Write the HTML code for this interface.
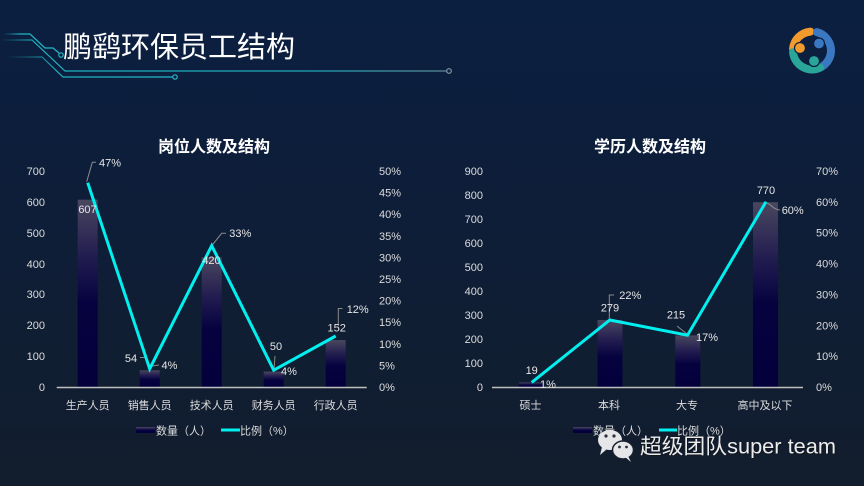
<!DOCTYPE html>
<html><head><meta charset="utf-8">
<style>
html,body{margin:0;padding:0;width:864px;height:486px;overflow:hidden;background:#0e1e38;}
svg{display:block;}
text{font-family:"Liberation Sans","Noto Sans CJK SC",sans-serif;}
</style></head>
<body>
<svg width="864" height="486" viewBox="0 0 864 486" xmlns="http://www.w3.org/2000/svg">
<defs>
<linearGradient id="bg" x1="0" y1="0" x2="0" y2="1">
<stop offset="0" stop-color="#0b1f41"/>
<stop offset="0.45" stop-color="#0e1e38"/>
<stop offset="1" stop-color="#121d2d"/>
</linearGradient>
<linearGradient id="bar" x1="0" y1="0" x2="0" y2="1">
<stop offset="0" stop-color="#4a475f"/>
<stop offset="0.3" stop-color="#221d50"/>
<stop offset="0.55" stop-color="#06023f"/>
<stop offset="1" stop-color="#03003c"/>
</linearGradient>
<linearGradient id="cl" x1="0" y1="0" x2="1" y2="0">
<stop offset="0" stop-color="#1a9aa8" stop-opacity="0"/>
<stop offset="0.08" stop-color="#1fb3c2"/>
<stop offset="0.7" stop-color="#1fa8b8"/>
<stop offset="1" stop-color="#5c8a98"/>
</linearGradient>
<linearGradient id="cl2" x1="0" y1="0" x2="1" y2="0">
<stop offset="0" stop-color="#1a9aa8" stop-opacity="0"/>
<stop offset="0.3" stop-color="#1fb3c2"/>
<stop offset="1" stop-color="#22b8c8"/>
</linearGradient>
</defs>
<rect width="864" height="486" fill="url(#bg)"/>

<!-- circuit lines -->
<polyline points="3,34 30,34 45,48 53,48 59,53" fill="none" stroke="url(#cl2)" stroke-width="1.2"/>
<circle cx="61" cy="55" r="2.2" fill="none" stroke="#2ab6c6" stroke-width="1.2"/>
<polyline points="0,40 32,40 65,71 446,71" fill="none" stroke="url(#cl)" stroke-width="1.2"/>
<circle cx="449" cy="71" r="2.3" fill="none" stroke="#8a9aa6" stroke-width="1.2"/>
<polyline points="7,57 42,57 63,77 173,77" fill="none" stroke="url(#cl2)" stroke-width="1.2"/>
<circle cx="175" cy="77" r="2.2" fill="none" stroke="#2ab6c6" stroke-width="1.2"/>

<text x="63" y="57" font-size="29" fill="#ffffff">鹏鹞环保员工结构</text>

<!-- logo -->
<g fill="none" stroke-linecap="round">
<path d="M 793.07 48.8 A 19 19 0 0 1 810.3 31.6" stroke="#f39a2c" stroke-width="8"/>
<path d="M 816.9 32.15 A 19 19 0 0 1 821.5 66.95" stroke="#3a78c2" stroke-width="8"/>
<path d="M 820 67.7 A 19 19 0 0 1 793.07 52.2" stroke="#2aa699" stroke-width="8"/>
</g>
<circle cx="800" cy="48" r="5.5" fill="#f39a2c" stroke="#0b1f41" stroke-width="1.2"/>
<circle cx="819" cy="43.5" r="5.5" fill="#3a78c2" stroke="#0b1f41" stroke-width="1.2"/>
<circle cx="814" cy="61" r="5.5" fill="#2aa699" stroke="#0b1f41" stroke-width="1.2"/>

<!-- LEFT CHART -->
<text x="214" y="152" font-size="16" font-weight="bold" fill="#ffffff" text-anchor="middle">岗位人数及结构</text>
<g font-size="11" fill="#dcdcdc" text-anchor="end">
<text x="45" y="391">0</text>
<text x="45" y="360">100</text>
<text x="45" y="329">200</text>
<text x="45" y="298">300</text>
<text x="45" y="268">400</text>
<text x="45" y="237">500</text>
<text x="45" y="206">600</text>
<text x="45" y="175">700</text>
</g>
<g font-size="11" fill="#dcdcdc">
<text x="379" y="391">0%</text>
<text x="379" y="369.4">5%</text>
<text x="379" y="347.8">10%</text>
<text x="379" y="326.2">15%</text>
<text x="379" y="304.6">20%</text>
<text x="379" y="283">25%</text>
<text x="379" y="261.4">30%</text>
<text x="379" y="239.8">35%</text>
<text x="379" y="218.2">40%</text>
<text x="379" y="196.6">45%</text>
<text x="379" y="175">50%</text>
</g>
<g fill="url(#bar)">
<rect x="77.7" y="199.7" width="20" height="187.3"/>
<rect x="139.7" y="370.3" width="20" height="16.7"/>
<rect x="201.7" y="257.4" width="20" height="129.6"/>
<rect x="263.7" y="371.6" width="20" height="15.4"/>
<rect x="325.7" y="340.1" width="20" height="46.9"/>
</g>
<line x1="56.7" y1="387.5" x2="366.7" y2="387.5" stroke="#bfbfbf" stroke-width="1.5"/>
<g font-size="11" fill="#dcdcdc" text-anchor="middle">
<text x="87.7" y="409">生产人员</text>
<text x="149.7" y="409">销售人员</text>
<text x="211.7" y="409">技术人员</text>
<text x="273.7" y="409">财务人员</text>
<text x="335.7" y="409">行政人员</text>
</g>
<!-- leaders -->
<g fill="none" stroke="#8a8a8a" stroke-width="1">
<polyline points="86.7,181.7 92.3,162.3 96,162.3"/>
<polyline points="212.3,245 221.7,233.3 226,233.3"/>
<polyline points="140,357.5 146,357.5 149.7,368"/>
<polyline points="152,366 159,365"/>
<polyline points="275,356 274,370"/>
<polyline points="338.3,326 338.3,308.5 342.5,308.5"/>
</g>
<polyline points="87.7,182.7 149.7,368.8 211.7,245.7 273.7,370.2 335.7,336" fill="none" stroke="#00f0f0" stroke-width="3" stroke-linejoin="miter"/>
<g font-size="11" fill="#e6e6e6">
<text x="87.5" y="213" text-anchor="middle">607</text>
<text x="99" y="166.5">47%</text>
<text x="211.5" y="264" text-anchor="middle">420</text>
<text x="229.3" y="237">33%</text>
<text x="131" y="362" text-anchor="middle">54</text>
<text x="161.5" y="369">4%</text>
<text x="276" y="350" text-anchor="middle">50</text>
<text x="281" y="375">4%</text>
<text x="336.7" y="331.5" text-anchor="middle">152</text>
<text x="346.7" y="313">12%</text>
</g>
<!-- legend left -->
<rect x="136" y="427" width="19" height="6" fill="url(#bar)"/>
<text x="156" y="434.5" font-size="11" fill="#dcdcdc">数量（人）</text>
<line x1="221" y1="430" x2="240" y2="430" stroke="#00f0f0" stroke-width="3"/>
<text x="240" y="434.5" font-size="11" fill="#dcdcdc">比例（%）</text>

<!-- RIGHT CHART -->
<text x="650" y="152" font-size="16" font-weight="bold" fill="#ffffff" text-anchor="middle">学历人数及结构</text>
<g font-size="11" fill="#dcdcdc" text-anchor="end">
<text x="483" y="391">0</text>
<text x="483" y="367">100</text>
<text x="483" y="343">200</text>
<text x="483" y="319">300</text>
<text x="483" y="295">400</text>
<text x="483" y="271">500</text>
<text x="483" y="247">600</text>
<text x="483" y="223">700</text>
<text x="483" y="199">800</text>
<text x="483" y="175">900</text>
</g>
<g font-size="11" fill="#dcdcdc">
<text x="816" y="391">0%</text>
<text x="816" y="360.1">10%</text>
<text x="816" y="329.3">20%</text>
<text x="816" y="298.4">30%</text>
<text x="816" y="267.6">40%</text>
<text x="816" y="236.7">50%</text>
<text x="816" y="205.9">60%</text>
<text x="816" y="175">70%</text>
</g>
<g fill="url(#bar)">
<rect x="518.8" y="382.4" width="25" height="4.6"/>
<rect x="597.5" y="320" width="25" height="67"/>
<rect x="675.3" y="335.4" width="25" height="51.6"/>
<rect x="753" y="202.2" width="25" height="184.8"/>
</g>
<line x1="492" y1="387.5" x2="803" y2="387.5" stroke="#bfbfbf" stroke-width="1.5"/>
<g font-size="11" fill="#dcdcdc" text-anchor="middle">
<text x="530.5" y="409">硕士</text>
<text x="609" y="409">本科</text>
<text x="687" y="409">大专</text>
<text x="765" y="409">高中及以下</text>
</g>
<g fill="none" stroke="#8a8a8a" stroke-width="1">
<polyline points="609.3,319 609.3,295 614,295"/>
<polyline points="677,326 687,334"/>
<path d="M 767 203 C 772 205, 774 210, 780 210"/>
</g>
<polyline points="531.7,382.4 609.8,320 687.5,335.2 766,201.8" fill="none" stroke="#00f0f0" stroke-width="3"/>
<g font-size="11" fill="#e6e6e6">
<text x="531.7" y="374" text-anchor="middle">19</text>
<text x="540" y="388">1%</text>
<text x="610" y="311.5" text-anchor="middle">279</text>
<text x="619.3" y="299">22%</text>
<text x="676" y="318.5" text-anchor="middle">215</text>
<text x="696" y="341">17%</text>
<text x="766" y="194" text-anchor="middle">770</text>
<text x="781.7" y="214">60%</text>
</g>
<!-- legend right -->
<rect x="573" y="427" width="19" height="6" fill="url(#bar)"/>
<text x="593" y="434.5" font-size="11" fill="#dcdcdc">数量（人）</text>
<line x1="659" y1="430" x2="677" y2="430" stroke="#00f0f0" stroke-width="3"/>
<text x="677" y="434.5" font-size="11" fill="#dcdcdc">比例（%）</text>

<!-- watermark -->
<g>
<ellipse cx="610" cy="440" rx="12" ry="10" fill="#e6e6e8"/>
<path d="M 602 447 L 600 455 L 607 449 Z" fill="#e6e6e8"/>
<circle cx="606" cy="436" r="1.6" fill="#2a3040"/>
<circle cx="614" cy="436" r="1.6" fill="#2a3040"/>
<ellipse cx="623" cy="450" rx="10.5" ry="9" fill="#e6e6e8" stroke="#1a2030" stroke-width="1.5"/>
<path d="M 628 456 L 631 462 L 625 457 Z" fill="#e6e6e8"/>
<circle cx="619.5" cy="447" r="1.4" fill="#2a3040"/>
<circle cx="626.5" cy="447" r="1.4" fill="#2a3040"/>
<text x="641" y="454.5" font-size="21" fill="#101010" opacity="0.6" textLength="196" lengthAdjust="spacingAndGlyphs">超级团队super team</text>
<text x="640" y="453.5" font-size="21" fill="#ececec" textLength="196" lengthAdjust="spacingAndGlyphs">超级团队super team</text>
</g>
</svg>
</body></html>
